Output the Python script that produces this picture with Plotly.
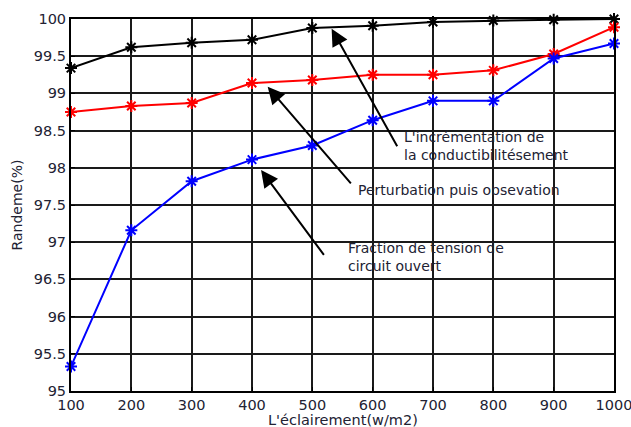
import plotly.graph_objects as go

eclairement = [100, 200, 300, 400, 500, 600, 700, 800, 900, 1000]
inc_cond = [99.34, 99.62, 99.68, 99.72, 99.88, 99.91, 99.96, 99.98, 99.99, 100.0]
perturb_obs = [98.75, 98.83, 98.87, 99.14, 99.18, 99.25, 99.25, 99.31, 99.53, 99.89]
fraction_tension = [95.33, 97.16, 97.82, 98.11, 98.30, 98.64, 98.90, 98.90, 99.47, 99.67]

x_ticks = [100, 200, 300, 400, 500, 600, 700, 800, 900, 1000]
y_ticks = [95, 95.5, 96, 96.5, 97, 97.5, 98, 98.5, 99, 99.5, 100]

FONT = "DejaVu Sans, Liberation Sans, Arial, sans-serif"
TXT = "#222233"

fig = go.Figure()

def add_series(y, color):
    fig.add_trace(go.Scatter(
        x=eclairement, y=y, mode="lines+markers",
        line=dict(color=color, width=2),
        marker=dict(symbol="asterisk-open", size=10, color=color,
                    line=dict(color=color, width=2)),
        showlegend=False, cliponaxis=False))

add_series(inc_cond, "#000000")
add_series(perturb_obs, "#ff0000")
add_series(fraction_tension, "#0000ff")

annots = [
    # text, text x, text y, arrow head x, head y, tail x, tail y
    ("L'incrémentation de<br>la conductibilitésement", 649, 98.29, 532, 99.87, 642, 98.27),
    ("Perturbation puis obsevation", 572, 97.70, 426, 99.09, 566, 97.77),
    ("Fraction de tension de<br>circuit ouvert", 555, 96.80, 415, 97.97, 521, 96.81),
]
for text, tx, ty, hx, hy, ax_, ay_ in annots:
    fig.add_annotation(x=hx, y=hy, ax=ax_, ay=ay_, axref="x", ayref="y",
                       xref="x", yref="y", text="", showarrow=True,
                       arrowhead=2, arrowsize=1.7, arrowwidth=2,
                       arrowcolor="#000000", standoff=0, startstandoff=0)
    fig.add_annotation(x=tx, y=ty, xref="x", yref="y", text=text,
                       showarrow=False, xanchor="left", yanchor="middle",
                       align="left", font=dict(family=FONT, size=14, color=TXT))

# x-axis title placed just below the tick labels (as in the reference)
fig.add_annotation(x=0.5, y=-0.077, xref="paper", yref="paper",
                   text="L'éclairement(w/m2)", showarrow=False,
                   xanchor="center", yanchor="middle",
                   font=dict(family=FONT, size=14.5, color=TXT))

axis_common = dict(
    showgrid=True, gridcolor="#1a1a1a", gridwidth=1.5,
    showline=True, linecolor="#000000", linewidth=2, mirror=True,
    ticks="inside", ticklen=4, tickcolor="#000000", tickwidth=1,
    zeroline=False, ticklabeloverflow="allow", automargin=False,
    tickfont=dict(family=FONT, size=14.5, color=TXT),
)

fig.update_xaxes(range=[100, 1000], tickvals=x_ticks,
                 ticktext=[str(v) for v in x_ticks],
                 **axis_common)
fig.update_yaxes(range=[95, 100], tickvals=y_ticks,
                 ticktext=[("%g" % v) for v in y_ticks],
                 title=dict(text="Randeme(%)", standoff=8,
                            font=dict(family=FONT, size=14, color=TXT)),
                 **axis_common)

fig.update_layout(
    width=631, height=427,
    margin=dict(l=71, r=17, t=19, b=36),
    plot_bgcolor="#ffffff", paper_bgcolor="#ffffff",
    font=dict(family=FONT, color=TXT),
)

fig.write_html("out.html",
               config={"displayModeBar": False},
               post_script="document.body.style.margin='0';"
                           "document.body.style.overflow='hidden';")
